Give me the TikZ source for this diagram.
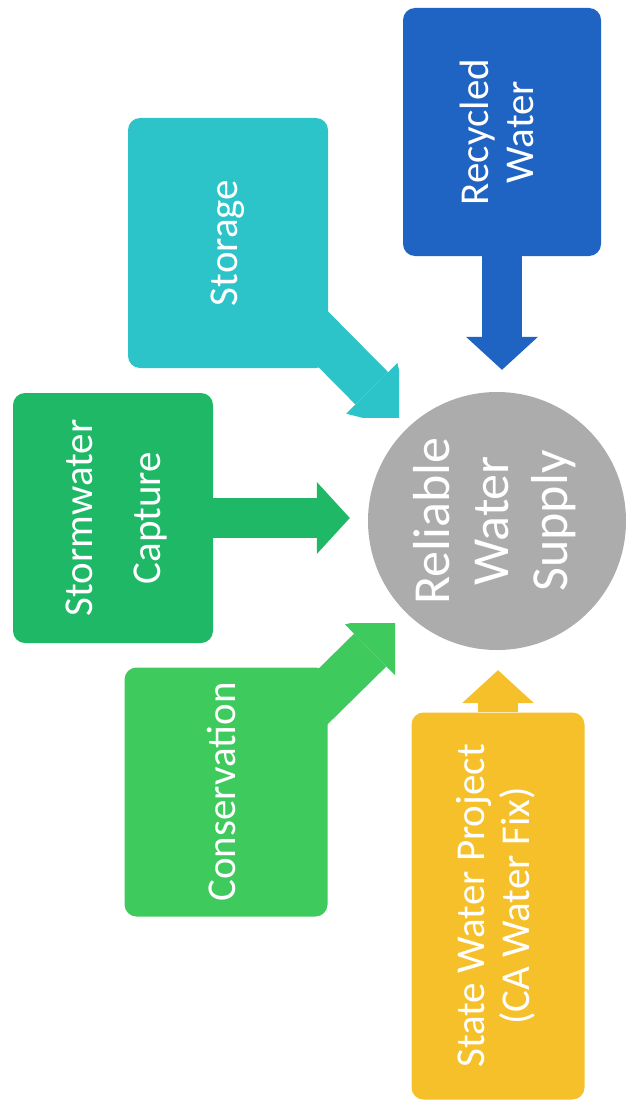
\documentclass[tikz,border=0pt]{standalone}
\usepackage{fontspec}
\setmainfont{Carlito}
\usetikzlibrary{arrows.meta,backgrounds}

\definecolor{recycblue}{RGB}{31,99,195}
\definecolor{storteal}{RGB}{44,196,201}
\definecolor{stormgreen}{RGB}{30,184,102}
\definecolor{consgreen}{RGB}{62,202,92}
\definecolor{swpyellow}{RGB}{246,192,42}
\definecolor{supgray}{RGB}{172,172,172}

\tikzstyle{box} = [rectangle, rounded corners=12pt, inner sep=0pt, text=white, font=\fontsize{41}{45}\selectfont]
\tikzstyle{hub} = [circle, minimum size=258pt, inner sep=0pt, fill=supgray, text=white, font=\fontsize{52}{59}\selectfont]
\tikzstyle{fat} = [line width=40pt, -{Triangle[width=72pt,length=33pt,line width=0pt]}]
\tikzstyle{slant} = [line width=46pt, -{Triangle[width=72pt,length=60pt,line width=0pt]}]

\newcommand{\vlabel}[1]{\rotatebox{90}{\begin{tabular}{@{}c@{}}#1\end{tabular}}}

\begin{document}
\begin{tikzpicture}[x=1pt,y=-1pt]
\useasboundingbox (0,0) rectangle (626,1105);
%\draw[step=50, very thin,black!20] (0,0) grid (626,1105);
\node[hub] (sup) at (497,521) {\vlabel{Reliable\\Water\\Supply}};
\node[box, fill=recycblue, minimum width=198pt, minimum height=248pt] (rw) at (502,132) {\vlabel{Recycled\\Water}};
\node[box, fill=storteal, minimum width=200pt, minimum height=250pt] (st) at (228,243) {\vlabel{Storage}};
\node[box, fill=stormgreen, minimum width=200pt, minimum height=250pt, font=\fontsize{41}{68}\selectfont] (sw) at (113,518) {\vlabel{Stormwater\\Capture}};
\node[box, fill=consgreen, minimum width=203pt, minimum height=249pt] (cv) at (226,792) {\vlabel{Conservation}};
\node[box, fill=swpyellow, minimum width=173pt, minimum height=387pt] (sp) at (498,906) {\vlabel{State Water Project\\(CA Water Fix)}};
\coordinate (sttip) at (414,431);
\coordinate (cvtip) at (413,608);
% straight arrows
\draw[fat, recycblue, shorten >=22pt] (rw.south) -- (rw.south |- sup.north);
\draw[fat, stormgreen, shorten >=18pt] (sw.east) -- (sw.east -| sup.west);
\draw[fat, swpyellow, shorten >=20pt] (sp.north) -- (sp.north |- sup.south);
% slanted arrows, cut off square
\begin{pgfonlayer}{background}
\begin{scope}
\clip (0,0) rectangle (399,417);
\draw[slant, storteal] (st.center) -- (sttip);
\end{scope}
\begin{scope}
\clip (0,623) rectangle (395,1105);
\draw[slant, consgreen] (cv.center) -- (cvtip);
\end{scope}
\end{pgfonlayer}
\end{tikzpicture}
\end{document}
